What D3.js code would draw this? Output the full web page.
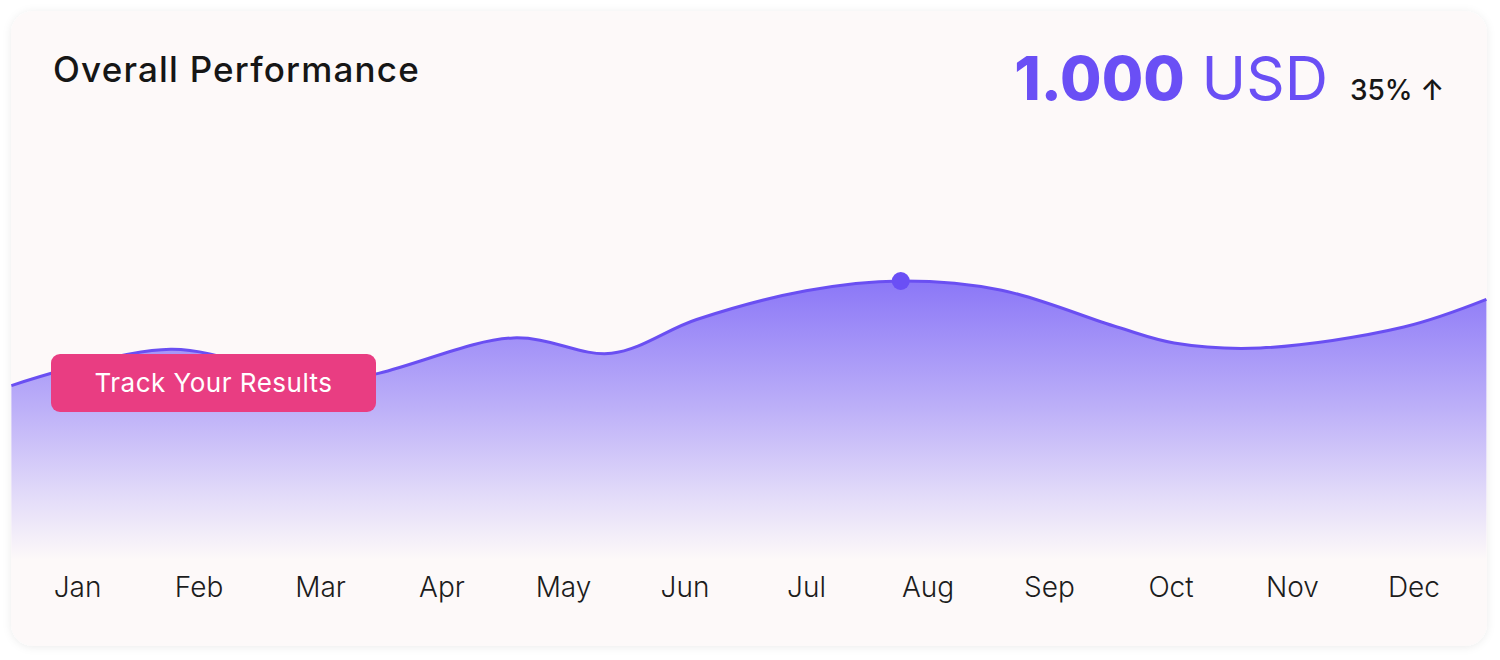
<!DOCTYPE html>
<meta charset="UTF-8">
<head>
  <script src="https://d3js.org/d3.v7.min.js"></script>
  <style>
    body { margin: 0; background: #ffffff; }
    svg text { font-family: Inter, "Noto Sans", sans-serif; }
  </style>
</head>
<body>
  <svg id="svg" width="1500" height="660"></svg>
  <script>
    // month ticks along the bottom
    const months = ["Jan", "Feb", "Mar", "Apr", "May", "Jun", "Jul", "Aug", "Sep", "Oct", "Nov", "Dec"];
    // curve samples: position in month units, value in USD
    const curvePos    = [-0.54, 0.77, 2.08, 3.59, 4.40, 5.10, 6.00, 6.78, 7.61, 8.56, 9.03, 9.74, 10.92, 11.60];
    const curveValues = [625,   755,  642,  796,  741,  862,  965,  1000, 967,  835,  778,  760,  835,   934];
    const highlightIndex = 7; // the dot on the peak
    const total = "1.000";
    const currency = "USD";
    const change = "35%";

    const svg = d3.select("#svg");
    const card = { x: 11, y: 11, w: 1476, h: 635, r: 22 };

    const defs = svg.append("defs");
    const shadow = defs.append("filter").attr("id", "shadow")
      .attr("x", "-5%").attr("y", "-5%").attr("width", "110%").attr("height", "110%");
    shadow.append("feDropShadow").attr("dx", 0).attr("dy", 1).attr("stdDeviation", 4)
      .attr("flood-color", "#000").attr("flood-opacity", 0.08);

    defs.append("clipPath").attr("id", "cardClip")
      .append("rect")
      .attr("x", card.x).attr("y", card.y).attr("width", card.w).attr("height", card.h)
      .attr("rx", card.r);

    const x = d3.scaleLinear().domain([0, 11]).range([77, 1413.5]);
    const y = d3.scaleLinear().domain([0, 1000]).range([560, 281]);

    const grad = defs.append("linearGradient").attr("id", "fillGrad")
      .attr("gradientUnits", "userSpaceOnUse")
      .attr("x1", 0).attr("x2", 0).attr("y1", y(1000)).attr("y2", y(0));
    grad.append("stop").attr("offset", "0%").attr("stop-color", "#8b77f7");
    grad.append("stop").attr("offset", "45%").attr("stop-color", "#bcaff8");
    grad.append("stop").attr("offset", "80%").attr("stop-color", "#e6dff9");
    grad.append("stop").attr("offset", "100%").attr("stop-color", "#fdf9f9");

    svg.append("rect")
      .attr("x", card.x).attr("y", card.y).attr("width", card.w).attr("height", card.h)
      .attr("rx", card.r).attr("fill", "#fdf9f9").attr("filter", "url(#shadow)");

    const pts = curvePos.map((p, i) => [p, curveValues[i]]);
    const plot = svg.append("g").attr("clip-path", "url(#cardClip)");

    const curve = d3.curveCatmullRom.alpha(0.5);
    const area = d3.area().curve(curve)
      .x(d => x(d[0])).y0(y(0)).y1(d => y(d[1]));
    const line = d3.line().curve(curve)
      .x(d => x(d[0])).y(d => y(d[1]));

    plot.append("path").datum(pts).attr("d", area).attr("fill", "url(#fillGrad)");
    plot.append("path").datum(pts).attr("d", line)
      .attr("fill", "none").attr("stroke", "#6a4ff2").attr("stroke-width", 3);

    plot.append("circle")
      .attr("cx", x(curvePos[highlightIndex])).attr("cy", y(curveValues[highlightIndex]))
      .attr("r", 9).attr("fill", "#6a4ff5");

    // month axis
    const axis = svg.append("g").attr("transform", "translate(0,572)")
      .call(d3.axisBottom(x).tickValues(d3.range(months.length)).tickFormat(i => months[i]).tickSize(0));
    axis.select(".domain").remove();
    axis.selectAll("text")
      .attr("dy", 0).attr("y", 25)
      .style("font-family", "Inter, sans-serif")
      .style("font-size", "28px").style("font-weight", 300).attr("fill", "#1c1c1c");

    // title
    svg.append("text").attr("x", 53).attr("y", 82)
      .text("Overall Performance")
      .style("font-size", "35px").style("font-weight", 500).style("letter-spacing", "1.2px")
      .attr("fill", "#161616");

    // total + change
    const head = svg.append("text").attr("x", 1328).attr("y", 100).attr("text-anchor", "end")
      .attr("fill", "#6a4ff5").style("font-size", "60px");
    head.append("tspan").text(total).style("font-weight", 800);
    head.append("tspan").text(" " + currency).style("font-weight", 400);

    svg.append("text").attr("x", 1350).attr("y", 100)
      .text(change + " ↑")
      .style("font-size", "28px").style("font-weight", 500).attr("fill", "#161616");

    // button
    const btn = svg.append("g").attr("transform", "translate(51,354)");
    btn.append("rect").attr("width", 325).attr("height", 58).attr("rx", 9).attr("fill", "#e93d82");
    btn.append("text").attr("x", 162.5).attr("y", 38).attr("text-anchor", "middle")
      .text("Track Your Results")
      .style("font-size", "26px").style("font-weight", 400).style("letter-spacing", "0.5px")
      .attr("fill", "#ffffff");
  </script>
</body>
